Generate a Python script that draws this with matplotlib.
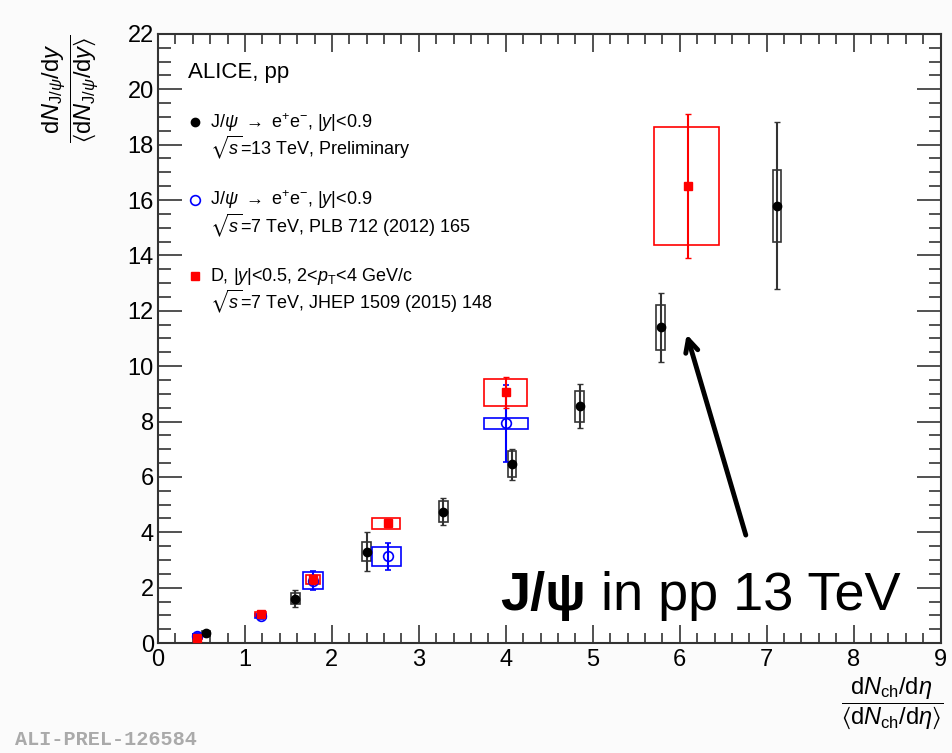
import numpy as np
import matplotlib.pyplot as plt
from matplotlib.patches import Rectangle
from matplotlib.ticker import MultipleLocator

plt.rcParams['font.family'] = ['Liberation Sans', 'DejaVu Sans']
plt.rcParams['mathtext.fontset'] = 'custom'
plt.rcParams['mathtext.rm'] = 'Liberation Sans'
plt.rcParams['mathtext.it'] = 'Liberation Sans:italic'
plt.rcParams['mathtext.bf'] = 'Liberation Sans:bold'
plt.rcParams['mathtext.fallback'] = 'stixsans'

# ---- data: J/psi 13 TeV (preliminary) ----
x13 = [0.55, 1.58, 2.40, 3.28, 4.07, 4.85, 5.78, 7.12]
y13 = [0.35, 1.60, 3.30, 4.75, 6.45, 8.55, 11.40, 15.80]
stat13 = [0.08, 0.30, 0.70, 0.50, 0.55, 0.80, 1.25, 3.00]
syst13 = [0.08, 0.20, 0.35, 0.38, 0.47, 0.55, 0.80, 1.30]
xw13 = [0.05, 0.05, 0.05, 0.05, 0.05, 0.05, 0.05, 0.05]

# ---- data: J/psi 7 TeV, PLB 712 ----
x7 = [0.45, 1.18, 1.78, 2.64, 4.00]
y7 = [0.25, 0.97, 2.25, 3.13, 7.93]
stat7 = [0.10, 0.10, 0.35, 0.50, 1.40]
syst7 = [0.08, 0.08, 0.30, 0.33, 0.21]
xlo7 = [0.40, 1.12, 1.67, 2.46, 3.75]
xhi7 = [0.50, 1.24, 1.90, 2.80, 4.25]

# ---- data: D mesons 7 TeV, JHEP 1509 ----
xD = [0.45, 1.18, 1.78, 2.64, 4.00, 6.09]
yD = [0.20, 1.05, 2.30, 4.33, 9.05, 16.50]
statD = [0.05, 0.08, 0.15, 0.15, 0.55, 2.60]
systD = [0.05, 0.08, 0.15, 0.20, 0.48, 2.12]
xloD = [0.40, 1.12, 1.70, 2.46, 3.75, 5.70]
xhiD = [0.50, 1.24, 1.86, 2.78, 4.24, 6.45]

fig = plt.figure(figsize=(9.52, 7.53), dpi=100)
ax = fig.add_axes([0.166, 0.146, 0.822, 0.809])

# systematic boxes
for xi, yi, s, w in zip(x13, y13, syst13, xw13):
    ax.add_patch(Rectangle((xi - w, yi - s), 2 * w, 2 * s, fill=False,
                           edgecolor='#333333', lw=1.2, zorder=3))
for lo, hi, yi, s in zip(xlo7, xhi7, y7, syst7):
    ax.add_patch(Rectangle((lo, yi - s), hi - lo, 2 * s, fill=False,
                           edgecolor='#0000ff', lw=1.2, zorder=3))
for lo, hi, yi, s in zip(xloD, xhiD, yD, systD):
    ax.add_patch(Rectangle((lo, yi - s), hi - lo, 2 * s, fill=False,
                           edgecolor='#ff0000', lw=1.2, zorder=3))

# stat errors + markers
ax.errorbar(x7, y7, yerr=stat7, fmt='o', mfc='none', mec='#0000ff',
            ecolor='#0000ff', ms=7, mew=1.2, elinewidth=1.5, capsize=2, zorder=4)
ax.errorbar(xD, yD, yerr=statD, fmt='s', color='#ff0000', ms=6,
            elinewidth=1.5, capsize=2, zorder=5)
ax.errorbar(x13, y13, yerr=stat13, fmt='o', color='black', ms=6,
            ecolor='#333333', elinewidth=1.5, capsize=2, zorder=6)

ax.set_xlim(0, 9)
ax.set_ylim(0, 22)
ax.xaxis.set_major_locator(MultipleLocator(1))
ax.xaxis.set_minor_locator(MultipleLocator(0.2))
ax.yaxis.set_major_locator(MultipleLocator(2))
ax.yaxis.set_minor_locator(MultipleLocator(0.5))
ax.tick_params(which='both', direction='in', top=True, right=True,
               labelsize=17, width=1.2, color='#333333')
ax.tick_params(axis='x', which='major', length=13, pad=4)
ax.tick_params(axis='x', which='minor', length=7)
ax.tick_params(axis='y', which='major', length=17, pad=3)
ax.tick_params(axis='y', which='minor', length=9)
for sp in ax.spines.values():
    sp.set_linewidth(1.5)
    sp.set_color('#333333')

# axis titles
fig.text(0.074, 0.882,
         r'$\dfrac{\mathrm{d}N_{\mathrm{J}/\psi}/\mathrm{d}y}{\langle\mathrm{d}N_{\mathrm{J}/\psi}/\mathrm{d}y\rangle}$',
         rotation=90, fontsize=17, ha='center', va='center')
fig.text(0.937, 0.066,
         r'$\dfrac{\mathrm{d}N_{\mathrm{ch}}/\mathrm{d}\eta}{\langle\mathrm{d}N_{\mathrm{ch}}/\mathrm{d}\eta\rangle}$',
         fontsize=17, ha='center', va='center')

# legend block
ax.text(0.35, 20.6, 'ALICE, pp', fontsize=16, va='center')
ax.plot([0.43], [18.8], 'o', color='black', ms=6)
ax.text(0.6, 18.8, r'J/$\psi$ $\rightarrow$ e$^{+}$e$^{-}$, |$y$|<0.9', fontsize=13, va='center')
ax.text(0.6, 17.9, r'$\sqrt{s}$=13 TeV, Preliminary', fontsize=13, va='center')
ax.plot([0.43], [16.0], 'o', mfc='none', mec='#0000ff', ms=7, mew=1.2)
ax.text(0.6, 16.0, r'J/$\psi$ $\rightarrow$ e$^{+}$e$^{-}$, |$y$|<0.9', fontsize=13, va='center')
ax.text(0.6, 15.1, r'$\sqrt{s}$=7 TeV, PLB 712 (2012) 165', fontsize=13, va='center')
ax.plot([0.43], [13.25], 's', color='#ff0000', ms=6)
ax.text(0.6, 13.25, r'D, |$y$|<0.5, 2<$p_{\mathrm{T}}$<4 GeV/c', fontsize=13, va='center')
ax.text(0.6, 12.35, r'$\sqrt{s}$=7 TeV, JHEP 1509 (2015) 148', fontsize=13, va='center')

# annotation
ax.annotate('', xy=(6.08, 11.15), xytext=(6.76, 3.9),
            arrowprops=dict(arrowstyle='->, head_length=0.9, head_width=0.45',
                            lw=3.5, color='black', shrinkA=0, shrinkB=0))
t1 = ax.text(3.93, 0.78, 'J/ψ', fontsize=39, fontweight='bold', va='bottom')
ax.annotate(' in pp 13 TeV', xy=(1, 0), xycoords=t1, fontsize=39, va='bottom')

fig.text(0.016, 0.01, 'ALI-PREL-126584', fontsize=14.5, color='#aaaaaa',
         family='Liberation Mono', fontweight='bold')

fig.savefig('out.png', dpi=100, facecolor='#fbfbfb')
